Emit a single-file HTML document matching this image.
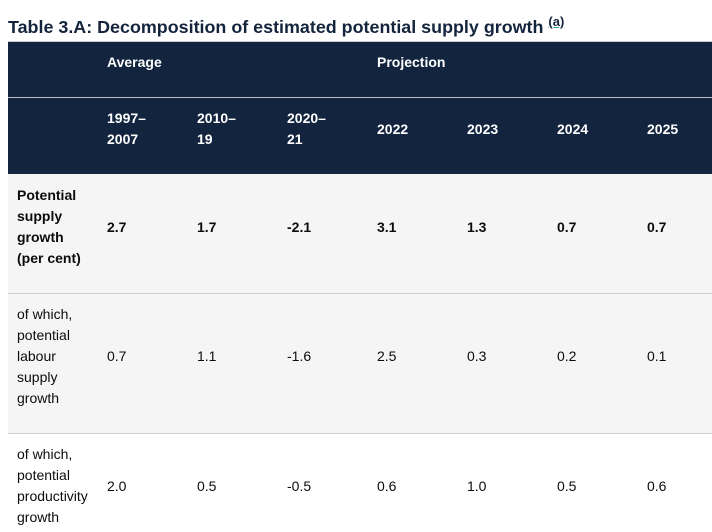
<!DOCTYPE html>
<html><head><meta charset="utf-8"><style>
body{margin:0;width:712px;height:532px;overflow:hidden;background:#fff;font-family:"Liberation Sans",Arial,sans-serif;position:relative}
.a{position:absolute;font-size:14px;line-height:21px;white-space:nowrap;color:#0b0c0c}
.h{color:#fff;font-weight:bold}
.b{font-weight:bold}
</style></head><body>
<div class="a" style="left:8px;top:10px;font-size:17.9px;font-weight:bold;color:#14243d;line-height:24px">Table 3.A: Decomposition of estimated potential supply growth <sup style="font-size:13px;text-decoration:underline;text-decoration-color:#2a9d8f">(a)</sup></div>
<div style="position:absolute;left:8px;top:41px;width:704px;height:1px;background:#c8ccd2"></div>
<div style="position:absolute;left:8px;top:42px;width:704px;height:132px;background:#13243f"></div>
<div style="position:absolute;left:8px;top:97px;width:704px;height:1px;background:#b8c0cc"></div>
<div style="position:absolute;left:8px;top:174px;width:704px;height:119px;background:#f5f5f5"></div>
<div style="position:absolute;left:8px;top:294px;width:704px;height:139px;background:#f5f5f5"></div>
<div style="position:absolute;left:8px;top:293px;width:704px;height:1px;background:#d0d0d0"></div>
<div style="position:absolute;left:8px;top:433px;width:704px;height:1px;background:#d0d0d0"></div>
<div id="t"></div>
<script>
const cols=["1997–\n2007","2010–\n19","2020–\n21","2022","2023","2024","2025"];
const total=["2.7","1.7","-2.1","3.1","1.3","0.7","0.7"];
const labour=["0.7","1.1","-1.6","2.5","0.3","0.2","0.1"];
const prod=["2.0","0.5","-0.5","0.6","1.0","0.5","0.6"];
const t=document.getElementById('t');
function put(txt,x,yc,cls,name){
  const lines=txt.split('\n');
  const d=document.createElement('div');
  d.className='a '+cls;
  d.innerHTML=lines.join('<br>');
  d.style.left=x+'px';
  d.style.top=(yc-lines.length*21/2)+'px';
  
  
  t.appendChild(d);
}
put("Average",107,62,'h','header-average');
put("Projection",377,62,'h','header-projection');
cols.forEach((c,i)=>put(c,107+90*i,129,'h','column-header'));
put("Potential\nsupply\ngrowth\n(per cent)",17,227,'b','row-label-total');
put("of which,\npotential\nlabour\nsupply\ngrowth",17,356,'','row-label-labour');
put("of which,\npotential\nproductivity\ngrowth",17,486,'','row-label-productivity');
total.forEach((v,i)=>put(v,107+90*i,227,'b','cell-total'));
labour.forEach((v,i)=>put(v,107+90*i,356,'','cell-labour'));
prod.forEach((v,i)=>put(v,107+90*i,486,'','cell-productivity'));
</script>
</body></html>
